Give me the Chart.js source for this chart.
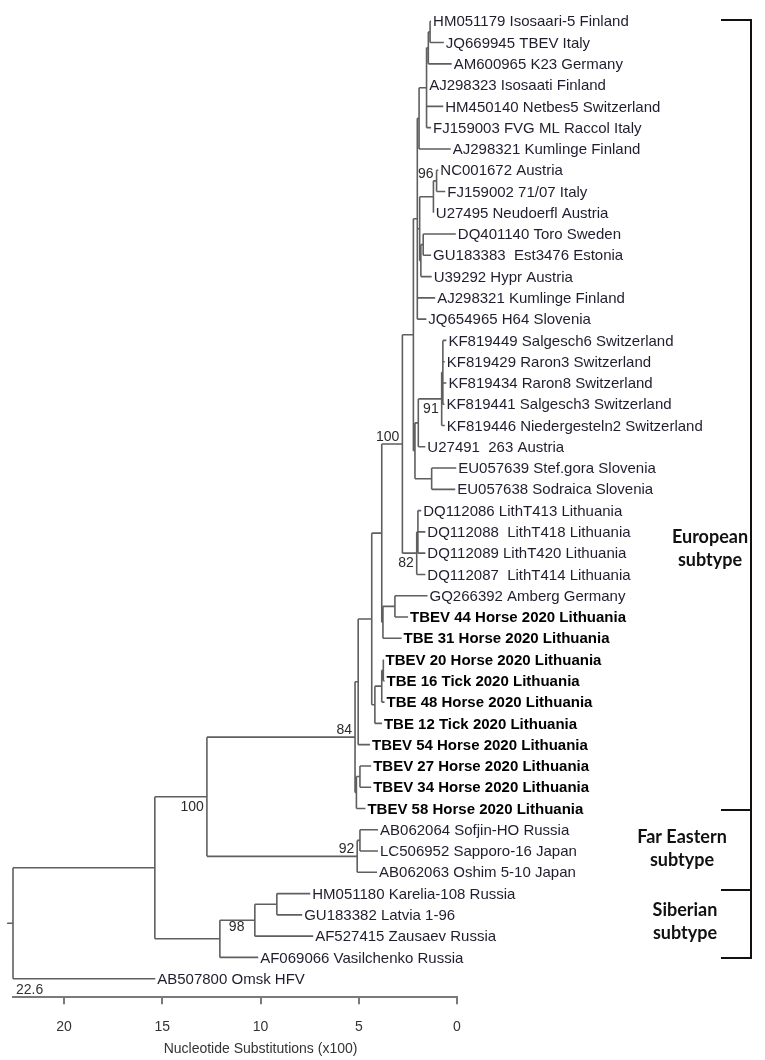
<!DOCTYPE html>
<html>
<head>
<meta charset="utf-8">
<script src="https://cdn.jsdelivr.net/npm/chart.js@4/dist/chart.umd.min.js"></script>
<style>
  html, body { margin: 0; padding: 0; background: #fff; }
  #tree { display: block; }
</style>
</head>
<body>
<canvas id="tree" width="765" height="1060"></canvas>
<script>
// tip labels, top to bottom
const leafNames = [
  "HM051179 Isosaari-5 Finland",
  "JQ669945 TBEV Italy",
  "AM600965 K23 Germany",
  "AJ298323 Isosaati Finland",
  "HM450140 Netbes5 Switzerland",
  "FJ159003 FVG ML Raccol Italy",
  "AJ298321 Kumlinge Finland",
  "NC001672 Austria",
  "FJ159002 71/07 Italy",
  "U27495 Neudoerfl Austria",
  "DQ401140 Toro Sweden",
  "GU183383  Est3476 Estonia",
  "U39292 Hypr Austria",
  "AJ298321 Kumlinge Finland",
  "JQ654965 H64 Slovenia",
  "KF819449 Salgesch6 Switzerland",
  "KF819429 Raron3 Switzerland",
  "KF819434 Raron8 Switzerland",
  "KF819441 Salgesch3 Switzerland",
  "KF819446 Niedergesteln2 Switzerland",
  "U27491  263 Austria",
  "EU057639 Stef.gora Slovenia",
  "EU057638 Sodraica Slovenia",
  "DQ112086 LithT413 Lithuania",
  "DQ112088  LithT418 Lithuania",
  "DQ112089 LithT420 Lithuania",
  "DQ112087  LithT414 Lithuania",
  "GQ266392 Amberg Germany",
  "TBEV 44 Horse 2020 Lithuania",
  "TBE 31 Horse 2020 Lithuania",
  "TBEV 20 Horse 2020 Lithuania",
  "TBE 16 Tick 2020 Lithuania",
  "TBE 48 Horse 2020 Lithuania",
  "TBE 12 Tick 2020 Lithuania",
  "TBEV 54 Horse 2020 Lithuania",
  "TBEV 27 Horse 2020 Lithuania",
  "TBEV 34 Horse 2020 Lithuania",
  "TBEV 58 Horse 2020 Lithuania",
  "AB062064 Sofjin-HO Russia",
  "LC506952 Sapporo-16 Japan",
  "AB062063 Oshim 5-10 Japan",
  "HM051180 Karelia-108 Russia",
  "GU183382 Latvia 1-96",
  "AF527415 Zausaev Russia",
  "AF069066 Vasilchenko Russia",
  "AB507800 Omsk HFV",
];

// tip position on the axis (substitutions x100)
const leafDepth = [
  1.32, 0.67, 0.27, 1.52, 0.70, 1.32, 0.32, 0.95, 0.60, 1.18,
  0.06, 1.32, 1.29, 1.11, 1.56, 0.54, 0.62, 0.54, 0.64, 0.62,
  1.61, 0.04, 0.09, 1.82, 1.61, 1.61, 1.61, 1.50, 2.49, 2.82,
  3.74, 3.69, 3.69, 3.82, 4.43, 4.37, 4.37, 4.66, 4.02, 4.02,
  4.07, 7.47, 7.88, 7.32, 10.12, 15.36,
];

// this study's sequences, printed bold
const studyLeaves = [28, 29, 30, 31, 32, 33, 34, 35, 36, 37];

// internal nodes: id, depth, children (numbers = tips, strings = nodes)
const nodeIds = [
  "a", "b", "c", "d", "n96a", "n96", "g", "h", "i", "j",
  "kA", "k91", "kU", "eu", "k415", "U", "D2", "D1", "N100",
  "K", "L", "M", "H", "I", "J", "P", "O", "G", "F", "N84",
  "X", "N92", "NFE", "S1", "S2", "N98", "N155", "root",
];
const nodeDepth = [
  1.37, 1.46, 1.55, 1.93, 1.04, 1.20, 1.72, 1.84, 1.90, 2.02,
  0.72, 0.78, 1.97, 1.29, 2.14, 2.22, 1.99, 2.05, 2.78,
  3.16, 3.77, 3.83, 3.75, 3.83, 4.18, 4.34, 5.03, 4.94, 5.12, 5.19,
  4.94, 5.08, 12.73, 9.17, 10.29, 12.07, 15.38, 22.6,
];
const nodeKids = [
  [0, 1], ["a", 2], ["b", 3, 4, 5], ["c", 6], [7, 8], ["n96a", 9], [10, 11], ["g", 12], ["n96", "h"], ["d", "i", 13, 14],
  [15, 16, 17, 18], ["kA", 19], ["k91", 20], [21, 22], ["kU", "eu"], ["j", "k415"], [23, 24, 25], ["D2", 26], ["U", "D1"],
  [27, 28], ["K", 29], ["N100", "L"], [30, 31], ["H", 32], ["I", 33], ["M", "J"], ["P", 34], [35, 36], ["G", 37], ["O", "F"],
  [38, 39], ["X", 40], ["N84", "N92"], [41, 42], ["S1", 43], ["S2", 44], ["NFE", "N98"], ["N155", 45],
];

// bootstrap values and where they sit against their node
const supportNodes = ["n96a", "k91", "D1", "N100", "N84", "N92", "NFE", "N98"];
const supportValues = [96, 91, 82, 100, 84, 92, 100, 98];
const supportSide = ["above", "below", "below", "above", "above", "above", "below", "inside"];

const rootStub = 0.3;

// subtype bracket, in row units
const subtypeLines = [["European", "subtype"], ["Far Eastern", "subtype"], ["Siberian", "subtype"]];
const subtypeEdges = [-0.06, 37.08, 40.84, 44.04];
const subtypeLabelRow = [24.8, 38.9, 42.3];

const xTicks = [0, 5, 10, 15, 20];
const xMax = 22.6;
const axisTitle = "Nucleotide Substitutions (x100)";

const FONT = "'Liberation Sans', Arial, sans-serif";
const LINE = "#5f5f5f";

function nodeIndex(id) {
  return nodeIds.indexOf(id);
}

function rowOf(ref) {
  if (typeof ref === "number") return ref;
  const kids = nodeKids[nodeIndex(ref)];
  return (rowOf(kids[0]) + rowOf(kids[kids.length - 1])) / 2;
}

function depthOf(ref) {
  return typeof ref === "number" ? leafDepth[ref] : nodeDepth[nodeIndex(ref)];
}

function buildBranches() {
  const pts = [];
  nodeIds.forEach((id, n) => {
    const x = nodeDepth[n];
    const rows = nodeKids[n].map(rowOf);
    pts.push({ x, y: rows[0] }, { x, y: rows[rows.length - 1] }, { x, y: null });
    nodeKids[n].forEach((k, j) => {
      pts.push({ x, y: rows[j] }, { x: depthOf(k), y: rows[j] }, { x, y: null });
    });
  });
  const r = rowOf("root");
  pts.push({ x: depthOf("root") + rootStub, y: r }, { x: depthOf("root"), y: r });
  return pts;
}

const treeText = {
  id: "treeText",
  afterDatasetsDraw(chart) {
    const { ctx, scales } = chart;
    const xs = scales.x;
    const ys = scales.y;
    ctx.save();

    // tip labels
    ctx.textBaseline = "middle";
    ctx.textAlign = "left";
    leafNames.forEach((name, i) => {
      const bold = studyLeaves.includes(i);
      ctx.font = `${bold ? "bold " : ""}15px ${FONT}`;
      ctx.fillStyle = bold ? "#000" : "#1e1e2e";
      ctx.fillText(name, xs.getPixelForValue(leafDepth[i]) + 2, ys.getPixelForValue(i) + 1);
    });

    // bootstrap support
    ctx.font = `14px ${FONT}`;
    ctx.fillStyle = "#2a2a2a";
    supportNodes.forEach((id, s) => {
      const px = xs.getPixelForValue(depthOf(id));
      const py = ys.getPixelForValue(rowOf(id));
      const side = supportSide[s];
      if (side === "inside") {
        ctx.textAlign = "left";
        ctx.textBaseline = "alphabetic";
        ctx.fillText(String(supportValues[s]), px + 9, py - 8);
      } else if (side === "below") {
        ctx.textAlign = "right";
        ctx.textBaseline = "top";
        ctx.fillText(String(supportValues[s]), px - 3, py + 3);
      } else {
        ctx.textAlign = "right";
        ctx.textBaseline = "alphabetic";
        ctx.fillText(String(supportValues[s]), px - 3, py - 3);
      }
    });

    // subtype bracket
    const bx = 751;
    ctx.strokeStyle = "#111";
    ctx.lineWidth = 2;
    ctx.beginPath();
    ctx.moveTo(bx, ys.getPixelForValue(subtypeEdges[0]));
    ctx.lineTo(bx, ys.getPixelForValue(subtypeEdges[subtypeEdges.length - 1]));
    subtypeEdges.forEach((r) => {
      const y = Math.round(ys.getPixelForValue(r));
      ctx.moveTo(bx - 30, y);
      ctx.lineTo(bx + 1, y);
    });
    ctx.stroke();

    ctx.font = `bold 18px Lato, ${FONT}`;
    ctx.fillStyle = "#111";
    ctx.textAlign = "center";
    ctx.textBaseline = "middle";
    const centers = [bx - 41, bx - 69, bx - 66];
    subtypeLines.forEach((lines, g) => {
      const cy = ys.getPixelForValue(subtypeLabelRow[g]);
      lines.forEach((t, l) => ctx.fillText(t, centers[g], cy + (l - (lines.length - 1) / 2) * 23));
    });

    // scale length and axis title
    ctx.font = `14px ${FONT}`;
    ctx.fillStyle = "#333";
    ctx.textAlign = "left";
    ctx.textBaseline = "alphabetic";
    ctx.fillText(String(xMax), xs.getPixelForValue(xMax) + 3, chart.chartArea.bottom - 3);
    ctx.textAlign = "center";
    ctx.fillText(axisTitle, xs.getPixelForValue(10), 1053);

    ctx.restore();
  },
};

new Chart(document.getElementById("tree"), {
  type: "scatter",
  data: {
    datasets: [
      {
        data: buildBranches(),
        showLine: true,
        spanGaps: false,
        borderColor: LINE,
        borderWidth: 1.6,
        pointRadius: 0,
        clip: false,
      },
    ],
  },
  options: {
    responsive: false,
    animation: false,
    layout: { padding: { left: 13, right: 308, top: 0, bottom: 9 } },
    plugins: { legend: { display: false }, tooltip: { enabled: false } },
    scales: {
      x: {
        type: "linear",
        reverse: true,
        min: 0,
        max: xMax,
        afterBuildTicks: (scale) => {
          scale.ticks = xTicks.map((v) => ({ value: v }));
        },
        ticks: { font: { family: FONT, size: 14 }, color: "#333", padding: 15, maxRotation: 0 },
        grid: { drawOnChartArea: false, tickLength: 7, color: "#7a7a7a", lineWidth: 2 },
        border: { display: true, color: "#7a7a7a", width: 2 },
      },
      y: { type: "linear", reverse: true, min: -1, max: 45.87, display: false },
    },
  },
  plugins: [treeText],
});
</script>
</body>
</html>
